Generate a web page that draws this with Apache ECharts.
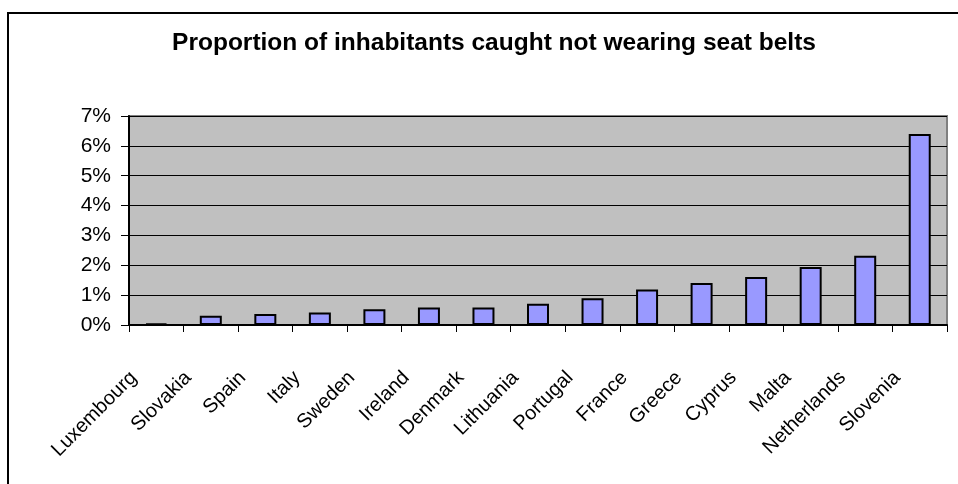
<!DOCTYPE html>
<html>
<head>
<meta charset="utf-8">
<script src="https://cdn.jsdelivr.net/npm/echarts@6/dist/echarts.min.js"></script>
<style>html,body{margin:0;padding:0;background:#fff;}#c{width:958px;height:484px;}</style>
</head>
<body>
<div id="c"></div>
<script>
const categories = ['Luxembourg','Slovakia','Spain','Italy','Sweden','Ireland','Denmark','Lithuania','Portugal','France','Greece','Cyprus','Malta','Netherlands','Slovenia'];
const values = [0.0005, 0.0031, 0.0037, 0.0042, 0.0053, 0.0059, 0.0059, 0.0071, 0.009, 0.0119, 0.0141, 0.0161, 0.0194, 0.0232, 0.064];
const yTicks = [0, 0.01, 0.02, 0.03, 0.04, 0.05, 0.06, 0.07];
const titleText = 'Proportion of inhabitants caught not wearing seat belts';

const FONT = "Arial, 'Liberation Sans', sans-serif";
const chart = echarts.init(document.getElementById('c'), null, {renderer: 'canvas'});
chart.setOption({
  animation: false,
  backgroundColor: '#ffffff',
  title: {
    text: titleText,
    left: 489, top: 26, textAlign: 'center',
    textStyle: {fontFamily: FONT, fontWeight: 'bold', fontSize: 24.5, color: '#000'}
  },
  graphic: [{
    type: 'rect', silent: true,
    shape: {x: 8, y: 13, width: 1000, height: 600},
    style: {fill: 'none', stroke: '#000', lineWidth: 2}
  }],
  grid: {
    left: 129, right: 11, top: 116, bottom: 159,
    show: true, backgroundColor: '#C0C0C0', borderColor: '#808080', borderWidth: 2
  },
  xAxis: {
    type: 'category', data: categories,
    axisLine: {show: true, lineStyle: {color: '#000', width: 2}},
    axisTick: {show: true, alignWithLabel: false, length: 7, lineStyle: {color: '#000', width: 1}},
    axisLabel: {
      interval: 0, rotate: 45, margin: 27,
      padding: [0, 32, 0, 0],
      fontFamily: FONT, fontSize: 20, color: '#000'
    },
    splitLine: {show: false}
  },
  yAxis: {
    type: 'value', min: yTicks[0], max: yTicks[yTicks.length - 1], interval: 0.01,
    axisLine: {show: true, lineStyle: {color: '#000', width: 2}},
    axisTick: {show: true, length: 8, lineStyle: {color: '#000', width: 1}},
    axisLabel: {
      margin: 18, fontFamily: FONT, fontSize: 21, color: '#000',
      formatter: v => Math.round(v * 100) + '%'
    },
    splitLine: {show: true, lineStyle: {color: '#000', width: 1}}
  },
  series: [{
    type: 'bar', data: values, barWidth: 22,
    itemStyle: {color: '#9999FF', borderColor: '#000', borderWidth: 2}
  }]
});
</script>
</body>
</html>
